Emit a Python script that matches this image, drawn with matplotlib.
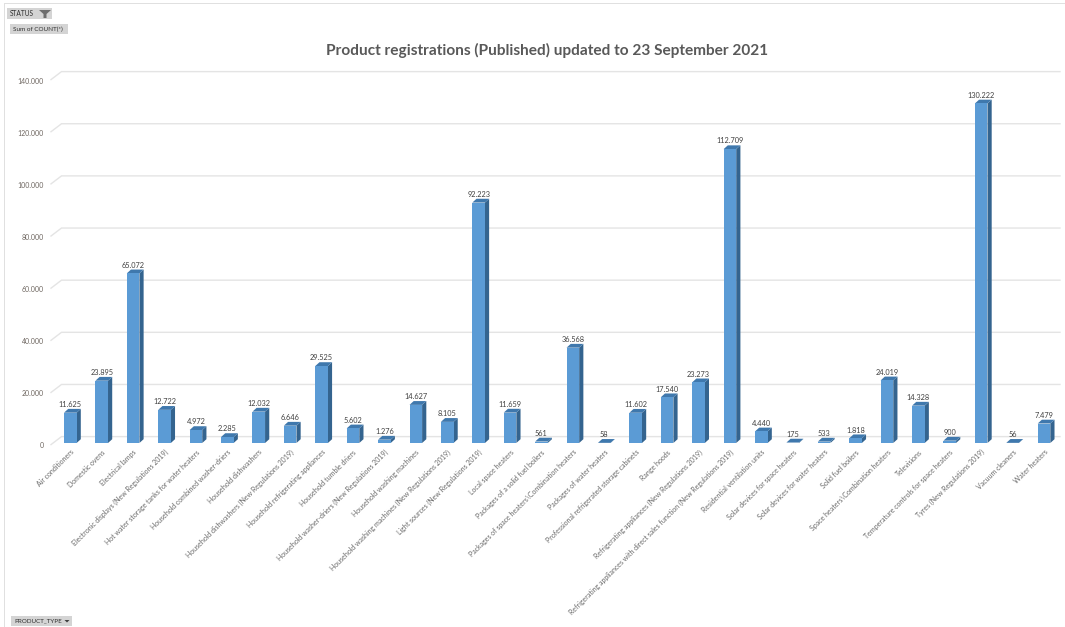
import matplotlib
matplotlib.use("Agg")
import matplotlib.pyplot as plt
from matplotlib.patches import Polygon, Rectangle
from matplotlib.transforms import ScaledTranslation

categories = ["Air conditioners", "Domestic ovens", "Electrical lamps",
    "Electronic displays (New Regulations 2019)", "Hot water storage tanks for water heaters",
    "Household combined washer-driers", "Household dishwashers",
    "Household dishwashers (New Regulations 2019)", "Household refrigerating appliances",
    "Household tumble driers", "Household washer-driers (New Regulations 2019)",
    "Household washing machines", "Household washing machines (New Regulations 2019)",
    "Light sources (New Regulations 2019)", "Local space heaters", "Packages of a solid fuel boilers",
    "Packages of space heaters\\Combination heaters", "Packages of water heaters",
    "Professional refrigerated storage cabinets", "Range hoods",
    "Refrigerating appliances (New Regulations 2019)",
    "Refrigerating appliances with direct sales function (New Regulations 2019)",
    "Residential ventilation units", "Solar devices for space heaters", "Solar devices for water heaters",
    "Solid fuel boilers", "Space heaters\\Combination heaters", "Televisions",
    "Temperature controls for space heaters", "Tyres (New Regulations 2019)", "Vacuum cleaners",
    "Water heaters"]
counts = [11625, 23895, 65072, 12722, 4972, 2285, 12032, 6646, 29525, 5602, 1276, 14627, 8105,
          92223, 11659, 561, 36568, 58, 11602, 17540, 23273, 112709, 4440, 175, 533, 1818,
          24019, 14328, 900, 130222, 56, 7479]
y_ticks = [0, 20000, 40000, 60000, 80000, 100000, 120000, 140000]
title = "Product registrations (Published) updated to 23 September 2021"

W, H = 1065, 627
plt.rcParams["font.family"] = ["Lato", "DejaVu Sans"]
fig = plt.figure(figsize=(W / 100, H / 100), dpi=100, facecolor="white")

L, R, T, B = 51, 1060, 78, 443
ax = fig.add_axes([L / W, 1 - B / H, (R - L) / W, (B - T) / H], facecolor="none")
PX_X = 31.41            # pixels per category
PX_Y = 52.15 / 20000    # pixels per count
x0 = 70.3
ax.set_xlim((L - x0) / PX_X, (R - x0) / PX_X)
ax.set_ylim(0, (B - T) / PX_Y)
for s in ax.spines.values():
    s.set_visible(False)

dx, dy = 4.2 / PX_X, 3.8 / PX_Y           # bar depth
wx, wy = 10.5 / PX_X, 8 / PX_Y            # wall depth
xl, xr = (L - x0) / PX_X, (R - x0) / PX_X
for t in y_ticks:
    ax.plot([xl, xl + wx, xr], [t - 0.2 * wy, t + 0.8 * wy, t + 0.8 * wy], color="#e4e4e4", lw=1,
            clip_on=False, zorder=1, solid_joinstyle="miter")

width = 12.6 / PX_X
xs = list(range(len(counts)))
ax.bar(xs, counts, width=width, color="#5b9bd5", edgecolor="none", zorder=3, clip_on=False)
for x, v in zip(xs, counts):
    a, b = x - width / 2, x + width / 2
    ax.add_patch(Polygon([(b, 0), (b + dx, dy), (b + dx, v + dy), (b, v)], closed=True,
                         fc="#34648f", ec="none", zorder=2, clip_on=False))
    ax.add_patch(Polygon([(a, v), (a + dx, v + dy), (b + dx, v + dy), (b, v)], closed=True,
                         fc="#3f78ad", ec="none", zorder=2, clip_on=False))
    ax.annotate(f"{v:,}".replace(",", "."), (x, v), xytext=(0, 3.4), textcoords="offset points",
                ha="center", va="bottom", fontsize=5.3, color="#404040", zorder=4)

ax.set_xticks(xs)
ax.set_xticklabels(categories, rotation=45, ha="right", rotation_mode="anchor",
                   fontsize=5.0, color="#6a6a6a")
ax.tick_params(axis="x", length=0, pad=4)
ax.set_yticks(y_ticks)
ax.set_yticklabels([f"{t:,}".replace(",", ".") if t else "0" for t in y_ticks],
                   fontsize=5.0, color="#6e6660")
ax.tick_params(axis="y", length=0, pad=5)
shift = ScaledTranslation(0, -2.5 / 100, fig.dpi_scale_trans)
for lab in ax.get_yticklabels():
    lab.set_transform(lab.get_transform() + shift)

fig.text(547 / W, 1 - 50.5 / H, title, ha="center", va="center", fontsize=11.05,
         fontweight="bold", color="#595959")

def rect(x, y, w, h, fc, ec="none", lw=0.0):
    fig.add_artist(Rectangle((x / W, 1 - (y + h) / H), w / W, h / H, transform=fig.transFigure,
                             fc=fc, ec=ec, lw=lw))

# sheet frame
rect(4, 3, 1061, 0.8, "#e0e0e0")
rect(4, 3, 0.8, 624, "#e0e0e0")
# pivot field buttons
for (x, y, w, h, s, fs) in [(7, 8, 45, 11, "STATUS", 4.8), (10, 24, 58, 10, "Sum of COUNT(*)", 4.6),
                            (11, 616, 61, 10, "PRODUCT_TYPE", 4.5)]:
    rect(x, y, w, h, "#d4d4d4")
    fig.text((x + 3) / W, 1 - (y + h / 2) / H, s, ha="left", va="center", fontsize=fs, color="#303030")
fig.add_artist(Polygon([(39 / W, 1 - 10 / H), (51 / W, 1 - 10 / H), (46.5 / W, 1 - 14 / H), (46.5 / W, 1 - 18 / H),
                        (43.5 / W, 1 - 18 / H), (43.5 / W, 1 - 14 / H)], closed=True,
                       transform=fig.transFigure, fc="#6d6d6d", ec="none"))
fig.add_artist(Polygon([(64.5 / W, 1 - 620 / H), (69.5 / W, 1 - 620 / H), (67 / W, 1 - 622.5 / H)], closed=True,
                       transform=fig.transFigure, fc="#404040", ec="none"))
fig.savefig("out.png", dpi=100)
